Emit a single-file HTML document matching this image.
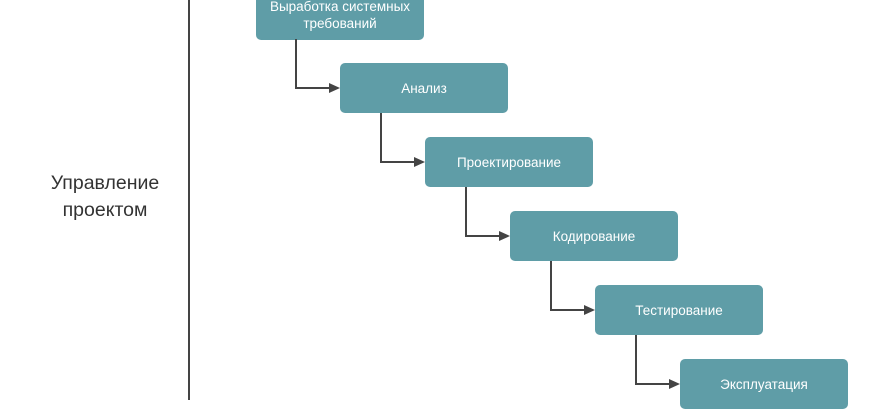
<!DOCTYPE html>
<html><head><meta charset="utf-8"><style>
body{margin:0;width:870px;height:400px;overflow:hidden;background:#fff;position:relative;font-family:"Liberation Sans","DejaVu Sans",sans-serif}
.b{position:absolute;width:168px;height:50px;background:#5f9da7;border-radius:5px;color:#fff;font-size:13.5px;display:flex;align-items:center;justify-content:center;text-align:center;line-height:17px}
.l{position:absolute;left:0;width:210px;text-align:center;font-size:19.5px;color:#333;line-height:27px}
</style></head><body>
<div style="position:absolute;left:188px;top:0;width:2px;height:400px;background:#444"></div>
<div class="l" style="top:170px">Управление<br>проектом</div>
<div class="b" style="left:256px;top:-10px">Выработка системных<br>требований</div>
<div class="b" style="left:340px;top:63px">Анализ</div>
<div class="b" style="left:425px;top:137px">Проектирование</div>
<div class="b" style="left:510px;top:211px">Кодирование</div>
<div class="b" style="left:595px;top:285px">Тестирование</div>
<div class="b" style="left:680px;top:359px">Эксплуатация</div>
<svg width="870" height="400" style="position:absolute;left:0;top:0" fill="none" stroke="#444" stroke-width="2">
<g>
<path d="M296 39V88H330"/><path d="M329 83L340 88L329 93Z" fill="#444" stroke="none"/>
<path d="M381 113V162H415"/><path d="M414 157L425 162L414 167Z" fill="#444" stroke="none"/>
<path d="M466 187V236H500"/><path d="M499 231L510 236L499 241Z" fill="#444" stroke="none"/>
<path d="M551 261V310H585"/><path d="M584 305L595 310L584 315Z" fill="#444" stroke="none"/>
<path d="M636 335V384H670"/><path d="M669 379L680 384L669 389Z" fill="#444" stroke="none"/>
</g></svg>
</body></html>
